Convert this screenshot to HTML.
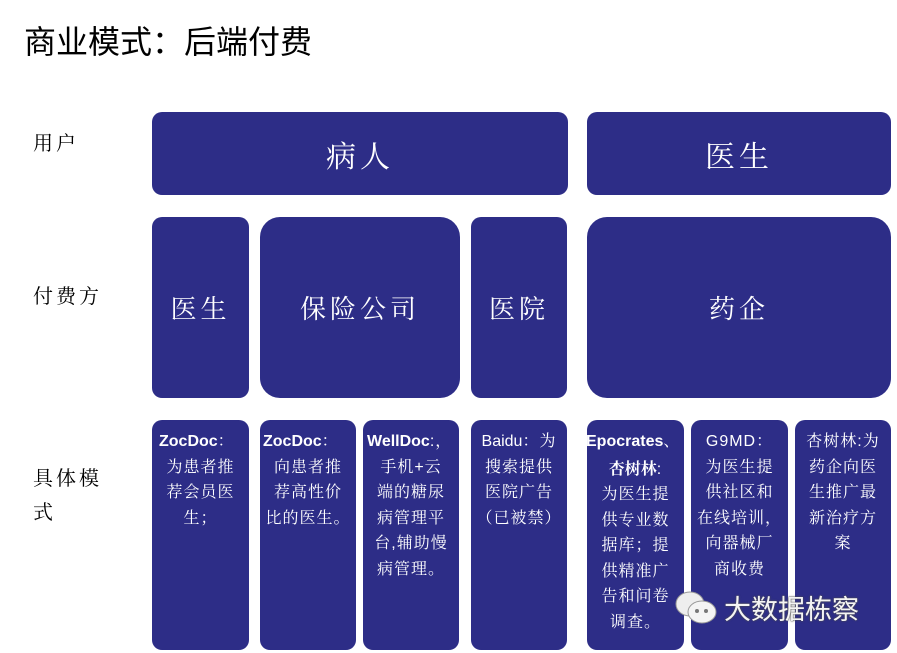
<!DOCTYPE html>
<html><head><meta charset="utf-8"><style>
body{margin:0;width:897px;height:653px;background:#fff;position:relative;overflow:hidden;font-family:"Liberation Sans","Noto Serif CJK SC","Noto Sans CJK SC",sans-serif}
.b{position:absolute;background:#2d2d87;color:#fff;border-radius:10px;box-sizing:border-box;font-family:"Liberation Sans","Noto Serif CJK SC",serif}
.c{display:flex;align-items:center;justify-content:center;font-size:30px;letter-spacing:4px}
.t{font-size:16px;line-height:25.5px;padding:9px 0 0 0;letter-spacing:1px;text-align:center;white-space:nowrap;overflow:hidden}
.t b{font-family:"Liberation Sans",sans-serif;letter-spacing:0}
.l{position:absolute;font-size:20px;color:#000;letter-spacing:3px;font-family:"Noto Serif CJK SC",serif}
</style></head><body>
<div style="position:absolute;left:24px;top:17px;font-size:32px;font-family:'Noto Sans CJK SC',sans-serif;color:#000">商业模式：后端付费</div>
<div class="l" style="left:33px;top:127px">用户</div>
<div class="l" style="left:33px;top:280px">付费方</div>
<div class="l" style="left:33px;top:460px;width:90px;line-height:34px">具体模<br>式</div>

<div class="b c" style="left:152px;top:112px;width:416px;height:83px">病人</div>
<div class="b c" style="left:587px;top:112px;width:304px;height:83px">医生</div>

<div class="b c" style="left:152px;top:217px;width:97px;height:181px;font-size:26px">医生</div>
<div class="b c" style="left:260px;top:217px;width:200px;height:181px;border-radius:20px;font-size:26px">保险公司</div>
<div class="b c" style="left:471px;top:217px;width:96px;height:181px;font-size:26px">医院</div>
<div class="b c" style="left:587px;top:217px;width:304px;height:181px;border-radius:20px;font-size:26px">药企</div>

<div class="b t" style="left:152px;top:420px;width:97px;height:230px"><div style="text-align:left;padding-left:7px"><b>ZocDoc</b>：</div>为患者推<br>荐会员医<br>生；</div>
<div class="b t" style="left:260px;top:420px;width:96px;height:230px"><div style="text-align:left;padding-left:3px"><b>ZocDoc</b>：</div>向患者推<br>荐高性价<br>比的医生。</div>
<div class="b t" style="left:363px;top:420px;width:96px;height:230px"><div style="text-align:left;padding-left:4px"><b>WellDoc</b>:，</div>手机+云<br>端的糖尿<br>病管理平<br>台,辅助慢<br>病管理。</div>
<div class="b t" style="left:471px;top:420px;width:96px;height:230px"><span style="font-family:'Liberation Sans';letter-spacing:0">Baidu</span>：为<br>搜索提供<br>医院广告<br>（已被禁）</div>
<div class="b t" style="left:587px;top:420px;width:97px;height:230px"><div style="text-align:left;margin-left:-1px"><b>Epocrates</b>、</div><b style="font-family:'Noto Serif CJK SC'">杏树林</b>:<br>为医生提<br>供专业数<br>据库；提<br>供精准广<br>告和问卷<br>调查。</div>
<div class="b t" style="left:691px;top:420px;width:97px;height:230px"><span style="font-family:'Liberation Sans';letter-spacing:1px">G9MD</span>：<br>为医生提<br>供社区和<br>在线培训，<br>向器械厂<br>商收费</div>
<div class="b t" style="left:795px;top:420px;width:96px;height:230px">杏树林:为<br>药企向医<br>生推广最<br>新治疗方<br>案</div>

<svg style="position:absolute;left:673px;top:588px" width="48" height="40"><ellipse cx="17" cy="16" rx="14" ry="12" fill="#eee" stroke="#999"/><ellipse cx="29" cy="24" rx="14" ry="11" fill="#f4f4f4" stroke="#999"/><circle cx="24" cy="23" r="2" fill="#777"/><circle cx="33" cy="23" r="2" fill="#777"/></svg>
<div style="position:absolute;left:724px;top:588px;font-size:27px;color:#f4f4f4;font-family:'Noto Sans CJK SC',sans-serif;text-shadow:0 0 2px #555,0 0 1px #333">大数据栋察</div>
</body></html>
